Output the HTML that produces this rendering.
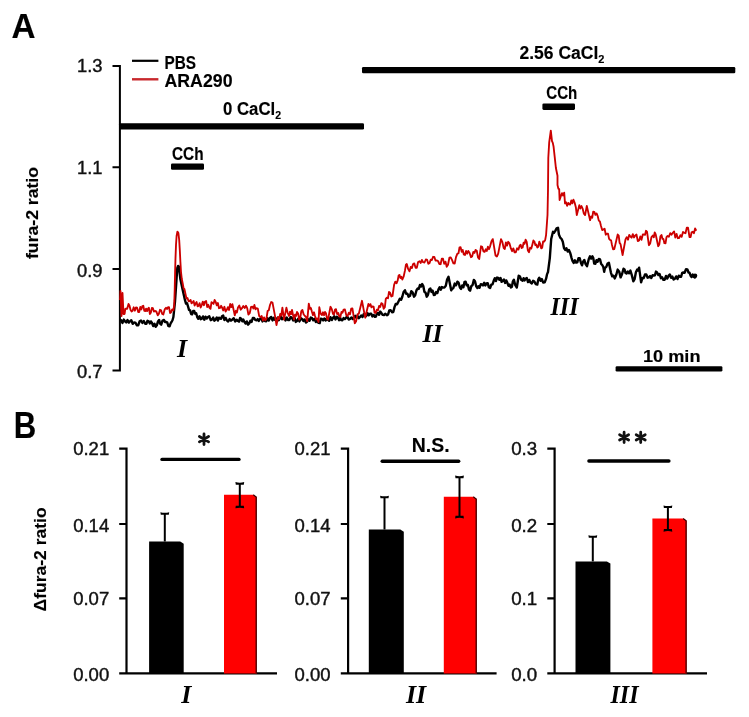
<!DOCTYPE html>
<html><head><meta charset="utf-8"><style>
html,body{margin:0;padding:0;background:#fff;}
body{width:749px;height:717px;overflow:hidden;font-family:"Liberation Sans", sans-serif;}
svg{display:block;filter:blur(0.35px);}
</style></head><body>
<svg width="749" height="717" viewBox="0 0 749 717">
<rect width="749" height="717" fill="#fff"/>
<text x="11.5" y="38.4" font-size="35" fill="#000" font-family='"Liberation Sans", sans-serif' stroke="#000" stroke-width="0.15" font-weight="bold" textLength="24" lengthAdjust="spacingAndGlyphs" >A</text>
<text x="13.8" y="437.9" font-size="36" fill="#000" font-family='"Liberation Sans", sans-serif' stroke="#000" stroke-width="0.15" font-weight="bold" textLength="22.5" lengthAdjust="spacingAndGlyphs" >B</text>
<path d="M112.5 66 H119.9 V370.5 H112.5 M112.5 167.2 H119.9 M112.5 269 H119.9" stroke="#000" stroke-width="2" fill="none"/>
<text x="77" y="72" font-size="17.5" fill="#111" font-family='"Liberation Sans", sans-serif' stroke="#111" stroke-width="0.4" textLength="25.5" lengthAdjust="spacingAndGlyphs" >1.3</text>
<text x="77" y="174" font-size="17.5" fill="#111" font-family='"Liberation Sans", sans-serif' stroke="#111" stroke-width="0.4" textLength="25.5" lengthAdjust="spacingAndGlyphs" >1.1</text>
<text x="77" y="276.8" font-size="17.5" fill="#111" font-family='"Liberation Sans", sans-serif' stroke="#111" stroke-width="0.4" textLength="25.5" lengthAdjust="spacingAndGlyphs" >0.9</text>
<text x="77" y="378.4" font-size="17.5" fill="#111" font-family='"Liberation Sans", sans-serif' stroke="#111" stroke-width="0.4" textLength="25.5" lengthAdjust="spacingAndGlyphs" >0.7</text>
<g transform="translate(38.4,213) rotate(-90)"><text x="0" y="0" font-size="17" fill="#000" font-family='"Liberation Sans", sans-serif' stroke="#000" stroke-width="0.15" font-weight="bold" text-anchor="middle" textLength="92" lengthAdjust="spacingAndGlyphs" >fura-2 ratio</text></g>
<line x1="132" y1="60.8" x2="158.4" y2="60.8" stroke="#000" stroke-width="2.2"/>
<line x1="132" y1="79.3" x2="158.4" y2="79.3" stroke="#c8282c" stroke-width="2.4"/>
<text x="164.5" y="68.5" font-size="17.5" fill="#000" font-family='"Liberation Sans", sans-serif' stroke="#000" stroke-width="0.15" font-weight="bold" textLength="31.5" lengthAdjust="spacingAndGlyphs" >PBS</text>
<text x="164.5" y="86.5" font-size="17.5" fill="#000" font-family='"Liberation Sans", sans-serif' stroke="#000" stroke-width="0.15" font-weight="bold" textLength="68" lengthAdjust="spacingAndGlyphs" >ARA290</text>
<rect x="119" y="123.3" width="245" height="6.3" rx="1.3" fill="#000"/>
<rect x="362" y="67" width="373.3" height="6.2" rx="1.3" fill="#000"/>
<rect x="171" y="163.5" width="33" height="6.2" rx="1.3" fill="#000"/>
<rect x="542.4" y="103.4" width="32.6" height="6.5" rx="1.3" fill="#000"/>
<rect x="615.6" y="366.3" width="106.8" height="5.2" rx="1.3" fill="#000"/>
<text x="223" y="114.8" font-size="17.5" fill="#000" font-family='"Liberation Sans", sans-serif' stroke="#000" stroke-width="0.15" font-weight="bold" textLength="58" lengthAdjust="spacingAndGlyphs" >0 CaCl<tspan font-size="11" dy="4">2</tspan></text>
<text x="519.5" y="58.5" font-size="17.5" fill="#000" font-family='"Liberation Sans", sans-serif' stroke="#000" stroke-width="0.15" font-weight="bold" >2.56 CaCl<tspan font-size="11" dy="4">2</tspan></text>
<text x="172" y="159.8" font-size="17.5" fill="#000" font-family='"Liberation Sans", sans-serif' stroke="#000" stroke-width="0.15" font-weight="bold" textLength="31.5" lengthAdjust="spacingAndGlyphs" >CCh</text>
<text x="546.3" y="99.4" font-size="17.5" fill="#000" font-family='"Liberation Sans", sans-serif' stroke="#000" stroke-width="0.15" font-weight="bold" textLength="31" lengthAdjust="spacingAndGlyphs" >CCh</text>
<text x="643" y="361.9" font-size="16" fill="#000" font-family='"Liberation Sans", sans-serif' stroke="#000" stroke-width="0.15" font-weight="bold" textLength="57.5" lengthAdjust="spacingAndGlyphs" >10 min</text>
<text x="177" y="356.9" font-size="26" fill="#000" font-family='"Liberation Serif", serif' font-weight="bold" font-style="italic" >I</text>
<text x="422.5" y="341.7" font-size="26" fill="#000" font-family='"Liberation Serif", serif' font-weight="bold" font-style="italic" >II</text>
<text x="550.5" y="314.9" font-size="26" fill="#000" font-family='"Liberation Serif", serif' font-weight="bold" font-style="italic" textLength="28" lengthAdjust="spacingAndGlyphs" >III</text>
<polyline points="120.0,321.0 121.2,320.2 122.5,322.9 123.8,319.6 125.0,321.3 126.2,322.4 127.5,320.0 128.8,322.6 130.0,321.3 131.3,320.2 132.7,323.8 134.0,322.5 135.4,322.6 136.8,325.2 138.2,325.4 139.6,321.3 141.0,320.6 142.4,322.9 143.8,321.0 145.2,323.7 146.4,323.7 147.5,320.8 148.7,321.3 149.8,323.4 150.9,321.4 152.0,323.0 153.2,326.1 154.5,323.7 155.7,326.8 156.8,325.3 158.0,321.4 159.1,319.9 160.1,323.7 161.2,324.7 162.6,320.5 164.0,319.9 165.0,322.1 166.0,322.0 167.2,322.4 168.4,326.1 169.6,326.3 170.6,323.4 171.5,322.0 172.4,320.5 173.4,317.0 175.0,301.7 177.3,268.0 178.1,265.9 178.8,266.4 180.3,278.7 182.6,289.4 185.0,300.2 186.0,303.6 187.0,303.2 188.0,306.3 189.0,309.9 190.1,310.4 191.1,314.0 192.1,314.3 193.2,310.9 194.2,311.0 195.2,313.8 196.2,313.3 197.2,317.0 198.3,318.8 199.5,316.3 200.7,319.2 201.8,318.6 203.0,316.4 204.3,319.7 205.5,316.7 206.8,318.5 208.0,317.0 209.3,316.3 210.7,320.2 212.0,319.5 213.2,317.6 214.4,320.7 215.6,319.4 216.8,317.5 217.9,320.5 219.0,317.7 220.2,318.6 221.1,318.8 222.0,316.2 223.2,315.5 224.4,320.0 225.6,317.9 226.8,320.3 228.2,321.5 229.6,319.1 231.0,320.7 232.4,319.5 233.8,318.2 235.2,321.5 236.6,319.7 238.0,321.0 239.1,321.6 240.1,317.9 241.2,318.7 242.3,321.3 243.3,319.6 244.4,321.9 245.6,323.6 246.8,321.4 248.0,324.7 249.2,323.5 250.4,320.7 251.6,321.9 252.8,318.0 254.0,317.9 255.2,319.9 256.5,320.3 257.7,319.1 258.8,321.0 260.0,319.0 261.2,317.6 262.5,321.4 263.8,319.3 265.0,321.0 266.2,321.2 267.5,318.2 268.8,320.6 270.0,318.0 271.2,316.9 272.5,320.4 273.8,317.8 275.0,320.0 276.2,320.5 277.5,317.7 278.8,320.3 280.0,318.0 281.0,316.6 282.0,319.3 283.0,318.0 284.2,317.4 285.5,320.4 286.8,317.6 288.0,320.0 289.3,320.1 290.7,317.0 292.0,318.0 293.2,320.4 294.5,317.7 295.8,321.9 297.0,321.0 298.2,318.8 299.5,321.4 300.8,318.1 302.0,319.0 303.3,320.9 304.6,319.4 305.9,322.6 307.2,321.5 308.4,319.2 309.6,320.7 310.8,317.5 312.0,318.0 313.3,320.3 314.6,318.8 315.9,322.1 317.2,320.5 318.5,322.9 319.7,323.1 320.8,318.8 322.0,319.0 323.2,320.4 324.4,318.5 325.6,320.5 326.8,318.7 328.0,319.8 329.2,320.8 330.5,317.2 331.8,320.1 333.0,318.0 334.2,316.3 335.5,319.5 336.8,316.7 338.0,317.7 339.1,320.2 340.1,317.7 341.2,320.0 342.4,320.3 343.6,318.1 344.8,319.1 346.0,317.7 347.3,316.5 348.7,319.6 350.0,319.0 351.3,317.4 352.7,319.1 354.0,316.9 355.2,315.8 356.4,317.8 357.6,316.0 358.8,318.3 360.0,317.0 361.2,315.5 362.5,317.1 363.8,313.9 365.0,315.0 366.2,316.0 367.5,313.2 368.8,315.3 370.0,313.7 371.2,313.7 372.4,316.5 373.7,314.9 374.9,316.9 375.9,316.6 377.0,313.4 378.0,313.0 379.1,314.8 380.2,311.6 381.3,312.9 382.6,314.9 384.0,315.0 385.4,313.7 386.9,315.3 388.1,314.5 389.3,310.4 390.6,310.1 392.0,312.2 393.3,312.0 394.5,307.1 395.7,304.0 397.1,304.2 398.6,301.2 399.8,298.8 401.1,299.8 402.3,296.7 403.6,292.0 405.0,290.3 406.2,293.8 407.4,293.6 408.6,296.7 410.0,295.8 411.3,291.2 412.6,292.3 414.0,296.7 415.2,295.3 416.5,290.2 417.7,288.5 418.8,288.9 419.9,285.0 421.1,286.5 422.2,284.0 423.3,286.0 424.4,291.8 425.6,292.7 426.7,296.7 427.9,295.1 429.2,289.4 430.4,288.5 431.5,291.9 432.6,290.6 433.8,295.0 434.9,294.9 436.1,292.0 437.3,293.1 438.5,289.4 439.6,287.3 440.8,289.7 441.9,287.0 443.0,287.6 444.4,287.5 445.8,285.8 447.1,279.5 448.5,276.7 451.2,290.3 452.0,288.9 453.4,287.9 454.7,283.6 456.0,285.4 457.4,281.7 458.6,282.7 459.9,287.5 461.1,288.9 462.2,285.4 463.4,287.2 464.5,281.9 465.6,281.7 466.7,285.3 467.9,285.0 469.0,289.6 470.1,290.7 471.3,286.1 472.6,285.0 473.8,279.9 475.0,281.3 476.2,286.3 477.4,288.0 478.5,286.2 479.6,287.7 480.8,284.2 481.9,284.4 483.0,285.5 484.2,282.8 485.4,285.5 486.5,283.5 487.7,283.2 488.9,287.3 490.1,288.0 491.3,284.6 492.5,284.3 493.7,280.8 494.8,278.2 495.9,281.1 497.1,277.6 498.2,278.0 499.4,279.7 500.5,277.9 501.6,281.8 502.8,280.8 503.9,279.4 505.1,282.9 506.2,280.4 507.3,282.6 508.5,285.8 509.7,284.6 510.9,287.5 511.9,286.8 512.9,281.3 513.9,279.7 515.3,285.2 516.8,287.5 518.7,275.8 520.0,276.6 521.3,280.0 522.6,280.7 523.6,278.2 524.6,280.4 525.6,278.7 526.8,278.0 528.0,282.1 529.3,279.9 530.5,282.6 531.8,283.4 533.1,280.8 534.4,281.6 535.8,284.2 537.3,284.6 538.3,279.4 539.3,277.7 540.6,280.8 541.9,279.1 543.2,282.6 544.7,282.4 546.1,278.7 547.0,274.4 548.0,272.0 549.8,258.1 551.2,239.0 553.0,231.8 554.1,232.7 555.3,230.9 556.6,228.4 558.0,227.7 558.9,234.5 560.2,237.6 561.6,239.0 562.8,241.8 564.0,248.0 565.2,249.9 566.4,248.2 567.7,251.6 568.9,249.9 570.2,252.9 571.6,258.1 572.5,260.8 573.7,262.9 574.9,260.3 576.1,262.6 577.3,262.3 578.5,258.2 579.7,258.1 580.9,262.7 582.0,265.3 583.1,261.7 584.3,259.9 585.6,264.1 587.0,266.2 588.8,259.0 590.0,256.3 591.2,258.6 592.4,256.3 593.3,258.1 594.2,263.5 595.4,263.7 596.5,260.2 597.6,261.8 598.8,259.0 600.0,259.4 601.2,264.0 602.4,265.3 603.3,267.0 604.2,271.7 605.0,267.7 606.3,266.9 607.6,263.5 608.9,262.8 610.9,272.6 612.2,276.3 613.5,275.7 614.8,278.4 616.2,275.0 617.7,269.6 619.2,271.6 620.6,277.4 622.0,274.3 623.5,268.7 624.5,269.4 625.5,272.9 626.5,273.5 627.8,271.5 629.1,273.2 630.4,270.6 631.8,275.1 633.3,281.3 634.6,279.2 635.9,272.3 637.2,269.6 638.2,270.5 639.1,267.7 641.1,282.3 642.4,277.9 643.7,278.2 645.0,274.5 646.3,274.4 647.6,277.7 648.9,277.4 650.1,276.1 651.3,278.0 652.6,275.2 653.8,275.5 654.9,275.3 656.0,271.6 657.1,272.5 658.4,275.1 659.6,274.0 660.9,278.2 662.1,277.3 663.4,279.9 664.7,279.7 666.0,276.0 667.3,278.6 668.6,275.7 669.9,274.5 671.1,277.8 672.4,276.6 673.6,279.6 674.9,278.8 676.2,276.4 677.5,279.1 678.8,275.7 680.1,276.7 681.1,276.8 682.2,272.8 683.2,272.5 684.6,272.8 686.0,269.3 687.4,269.4 688.5,272.5 689.5,272.7 690.6,275.7 691.6,277.1 692.7,274.5 693.7,276.7 694.8,277.5 695.8,275.7" fill="none" stroke="#000" stroke-width="2.4" stroke-linejoin="round"/>
<polyline points="120.0,300.0 120.5,291.0 121.5,316.0 122.5,293.0 123.5,314.0 124.6,314.0 125.3,308.8 126.0,308.6 127.2,308.8 128.5,304.0 129.5,305.8 130.5,309.8 131.6,311.4 132.6,310.7 133.7,307.3 134.9,310.7 136.0,307.4 137.1,307.6 138.2,312.0 139.2,312.0 140.3,307.0 141.3,309.5 142.4,306.1 143.3,305.8 144.3,310.7 145.2,311.1 146.1,308.6 147.1,311.1 148.0,308.6 148.9,307.8 149.9,314.0 150.8,312.8 151.9,308.0 152.9,308.2 153.9,311.5 155.0,311.0 156.3,311.4 157.7,315.3 158.8,314.0 160.0,309.8 161.1,310.3 162.2,314.0 163.3,314.5 164.7,309.4 166.0,307.8 167.0,309.0 168.0,307.2 169.0,307.2 170.1,313.0 171.1,312.2 172.2,309.4 173.4,310.4 174.2,305.0 174.7,290.0 175.1,272.0 175.5,258.0 176.0,245.0 176.6,236.0 177.4,231.6 178.4,233.0 179.2,240.0 179.8,250.0 180.4,262.0 181.0,272.0 181.8,279.0 182.8,284.0 183.6,288.4 184.4,289.0 186.5,298.6 187.5,298.0 188.6,301.3 189.6,301.0 190.6,300.0 191.5,303.3 192.5,302.5 193.6,300.9 194.6,305.6 195.7,303.3 196.6,302.1 197.6,306.4 198.5,306.0 199.6,303.2 200.7,307.5 201.8,304.8 202.8,301.6 203.9,305.2 204.9,301.7 206.1,301.0 207.2,307.1 208.3,304.8 209.5,307.9 210.5,308.8 211.5,302.1 212.5,303.0 213.5,303.9 214.6,299.9 215.6,301.7 216.8,305.4 217.9,303.0 219.0,308.2 220.2,307.9 221.1,305.8 222.0,307.4 223.2,310.5 224.4,306.8 225.6,311.5 226.8,309.8 227.9,307.1 229.0,310.0 230.2,304.0 231.3,307.1 232.4,304.2 234.8,315.4 235.9,310.8 236.9,312.5 238.0,307.4 239.3,305.5 240.7,309.7 242.0,308.2 243.3,306.0 244.7,308.1 246.0,305.8 247.2,308.1 248.4,314.6 249.7,313.2 251.1,306.8 252.4,306.6 253.4,308.5 254.4,304.9 255.5,309.3 256.5,308.2 257.8,308.6 259.2,316.2 260.5,317.0 261.7,316.0 262.9,320.5 264.1,317.4 265.3,320.3 266.5,318.4 267.6,311.1 268.8,310.2 270.0,305.0 271.2,302.0 272.5,302.6 274.9,315.4 276.5,325.0 278.1,317.0 279.2,319.0 280.2,313.9 281.3,315.4 282.4,307.6 284.0,319.6 286.4,307.6 287.7,313.0 289.0,316.0 290.0,311.7 291.0,314.2 292.0,310.0 294.0,319.6 295.0,314.6 296.0,315.9 297.0,312.0 298.1,313.6 299.2,319.6 300.3,317.5 301.3,311.1 302.4,310.0 303.7,314.5 305.0,316.0 306.1,317.2 307.2,321.2 308.8,303.6 309.9,308.8 310.9,308.0 312.0,312.0 313.0,315.2 314.0,312.3 315.0,316.0 316.2,319.4 317.3,318.6 318.5,322.0 319.3,307.2 320.6,313.5 322.0,315.0 323.0,312.3 324.0,315.2 325.0,312.0 326.0,313.4 327.0,318.7 328.0,319.6 330.5,306.8 331.8,309.1 333.0,314.0 334.0,314.5 335.0,309.6 336.0,309.2 337.1,314.1 338.2,312.9 339.3,316.4 340.4,316.9 341.5,311.9 342.5,312.7 343.6,309.6 344.9,309.4 346.3,315.2 347.6,316.0 348.8,312.8 350.0,314.3 351.2,308.7 352.4,308.4 354.8,323.3 356.1,321.2 357.5,314.3 358.8,313.7 362.0,300.8 365.2,317.7 368.4,304.0 369.4,305.9 370.4,304.1 371.5,307.4 372.5,306.4 373.6,306.6 374.6,312.9 375.7,312.9 376.8,309.7 377.9,310.6 379.1,306.0 380.2,306.9 381.3,303.2 382.5,303.8 383.7,308.8 384.8,307.3 385.8,298.9 386.9,297.6 388.0,298.2 389.0,292.0 390.1,292.8 391.3,296.5 392.5,296.0 394.1,284.8 395.3,281.6 396.5,283.3 397.7,280.4 398.6,275.6 399.5,274.9 400.4,278.0 401.4,276.8 402.3,279.5 403.6,276.7 405.0,270.4 405.9,264.8 406.8,264.0 408.1,268.9 409.5,271.3 410.7,266.9 411.9,268.1 413.1,264.0 414.3,263.4 415.6,267.7 416.8,267.7 418.1,262.0 419.5,261.3 420.7,263.0 421.9,259.9 423.1,262.2 424.5,262.5 425.8,259.5 427.0,259.6 428.3,263.8 429.5,263.1 430.7,259.7 431.9,260.0 433.1,256.8 434.3,256.9 435.5,260.5 436.7,260.4 438.0,261.0 439.4,264.0 440.6,264.2 441.8,258.6 443.0,258.6 444.2,263.9 445.5,261.6 446.7,266.8 448.0,264.8 449.4,257.7 450.7,257.4 452.0,259.9 453.4,263.4 454.7,263.5 456.0,257.1 457.4,253.6 458.5,253.4 459.5,247.3 460.6,247.2 461.7,251.9 462.7,249.9 463.8,254.5 464.9,255.0 466.1,251.0 467.2,253.7 468.3,250.9 469.6,253.0 471.0,257.2 472.1,256.5 473.3,251.9 474.5,252.9 475.6,249.9 476.8,250.8 478.0,257.4 479.2,259.0 481.0,246.3 482.2,246.9 483.4,251.3 484.6,251.8 485.7,249.3 486.8,251.0 487.9,246.6 489.0,249.2 490.1,246.3 491.5,241.2 492.8,239.1 495.5,255.4 496.9,256.5 498.2,253.6 501.0,239.1 502.4,242.2 503.7,248.1 504.8,249.0 505.9,242.4 507.1,245.6 508.2,241.8 509.5,243.4 510.9,248.4 512.1,251.2 513.3,248.4 514.6,252.4 515.8,252.3 517.1,248.3 518.4,249.6 519.7,245.5 520.7,244.8 521.6,248.0 522.6,247.5 523.6,242.6 524.6,243.8 525.6,239.6 526.7,242.0 527.9,250.5 529.0,252.3 530.1,247.7 531.3,248.6 532.4,244.5 533.4,240.5 534.4,241.6 535.4,245.2 536.3,244.5 537.3,247.5 538.3,246.7 539.3,241.6 540.2,243.8 541.2,248.4 542.2,247.7 543.1,241.5 544.1,241.6 545.1,240.3 546.1,234.8 547.5,215.0 548.0,190.0 548.3,158.0 549.2,142.3 550.8,130.6 552.0,141.2 552.8,142.9 553.6,146.8 554.7,156.8 555.9,168.0 557.5,175.8 557.5,185.0 558.4,188.8 559.2,189.2 559.6,200.0 560.9,195.9 562.0,193.1 563.1,195.5 564.2,192.6 565.0,203.4 566.0,202.3 567.1,205.8 568.2,202.9 569.2,204.3 570.2,204.6 571.3,200.4 572.4,203.3 573.4,199.7 574.6,202.5 575.9,207.6 576.8,215.1 579.3,205.1 580.4,208.5 581.5,206.0 582.6,208.5 583.9,213.7 585.1,215.1 586.8,205.9 590.1,220.2 591.1,216.4 592.2,217.8 593.2,211.7 594.3,211.8 595.4,214.9 596.6,213.4 597.7,216.0 598.8,220.6 599.9,221.5 601.0,226.0 602.2,230.1 603.5,229.4 604.6,228.8 605.8,234.7 606.9,233.6 608.0,233.6 609.1,238.9 610.2,240.0 611.1,240.4 612.0,245.0 613.1,249.3 614.3,249.1 617.7,234.5 618.7,235.6 619.6,242.9 620.6,244.3 622.6,255.0 625.5,239.4 626.7,237.1 628.0,239.7 629.2,234.9 630.4,236.5 631.6,237.7 632.8,234.1 634.0,237.5 635.2,235.5 636.5,234.6 637.8,241.1 639.1,240.4 640.3,236.4 641.5,239.8 642.8,234.5 644.0,234.5 645.0,234.9 646.0,230.8 647.0,231.6 648.9,245.2 650.2,243.4 651.5,237.0 652.8,235.5 653.8,237.3 654.7,232.4 655.7,234.5 658.2,246.2 659.3,244.4 660.4,236.4 661.5,235.0 662.5,238.9 663.4,238.9 664.4,243.2 665.5,243.4 666.5,237.1 667.6,235.9 668.9,236.8 670.2,233.2 671.5,234.7 672.8,232.8 674.1,231.4 675.3,237.5 676.6,233.9 677.8,238.2 679.1,238.0 680.4,235.2 681.7,236.8 683.0,232.0 684.3,232.8 685.5,233.2 686.8,227.6 688.0,227.6 689.5,237.0 690.6,237.1 691.6,232.3 692.7,231.7 693.9,233.3 695.1,228.5 696.3,230.7" fill="none" stroke="#cc0000" stroke-width="1.85" stroke-linejoin="round"/>
<circle cx="695" cy="275.8" r="2.3" fill="#000"/>
<path d="M119.2 448.7 H126.5 V673.4 M119.2 524 H126.5 M119.2 598.4 H126.5 M119.2 673.4 H277" stroke="#000" stroke-width="2.2" fill="none"/>
<text x="73.2" y="455" font-size="17.5" fill="#111" font-family='"Liberation Sans", sans-serif' stroke="#111" stroke-width="0.4" textLength="36" lengthAdjust="spacingAndGlyphs" >0.21</text>
<text x="73.2" y="531.8" font-size="17.5" fill="#111" font-family='"Liberation Sans", sans-serif' stroke="#111" stroke-width="0.4" textLength="36" lengthAdjust="spacingAndGlyphs" >0.14</text>
<text x="73.2" y="604.6" font-size="17.5" fill="#111" font-family='"Liberation Sans", sans-serif' stroke="#111" stroke-width="0.4" textLength="36" lengthAdjust="spacingAndGlyphs" >0.07</text>
<text x="73.2" y="681" font-size="17.5" fill="#111" font-family='"Liberation Sans", sans-serif' stroke="#111" stroke-width="0.4" textLength="36" lengthAdjust="spacingAndGlyphs" >0.00</text>
<path d="M340.8 448.7 H348.1 V673.4 M340.8 524 H348.1 M340.8 598.4 H348.1 M340.8 673.4 H496.6" stroke="#000" stroke-width="2.2" fill="none"/>
<text x="294.5" y="455" font-size="17.5" fill="#111" font-family='"Liberation Sans", sans-serif' stroke="#111" stroke-width="0.4" textLength="36" lengthAdjust="spacingAndGlyphs" >0.21</text>
<text x="294.5" y="531.8" font-size="17.5" fill="#111" font-family='"Liberation Sans", sans-serif' stroke="#111" stroke-width="0.4" textLength="36" lengthAdjust="spacingAndGlyphs" >0.14</text>
<text x="294.5" y="604.6" font-size="17.5" fill="#111" font-family='"Liberation Sans", sans-serif' stroke="#111" stroke-width="0.4" textLength="36" lengthAdjust="spacingAndGlyphs" >0.07</text>
<text x="294.5" y="681" font-size="17.5" fill="#111" font-family='"Liberation Sans", sans-serif' stroke="#111" stroke-width="0.4" textLength="36" lengthAdjust="spacingAndGlyphs" >0.00</text>
<path d="M547.3000000000001 448.7 H554.6 V673.4 M547.3000000000001 524 H554.6 M547.3000000000001 598.4 H554.6 M547.3000000000001 673.4 H707" stroke="#000" stroke-width="2.2" fill="none"/>
<text x="511.2" y="455" font-size="17.5" fill="#111" font-family='"Liberation Sans", sans-serif' stroke="#111" stroke-width="0.4" textLength="26" lengthAdjust="spacingAndGlyphs" >0.3</text>
<text x="511.2" y="531.8" font-size="17.5" fill="#111" font-family='"Liberation Sans", sans-serif' stroke="#111" stroke-width="0.4" textLength="26" lengthAdjust="spacingAndGlyphs" >0.2</text>
<text x="511.2" y="604.6" font-size="17.5" fill="#111" font-family='"Liberation Sans", sans-serif' stroke="#111" stroke-width="0.4" textLength="26" lengthAdjust="spacingAndGlyphs" >0.1</text>
<text x="511.2" y="681" font-size="17.5" fill="#111" font-family='"Liberation Sans", sans-serif' stroke="#111" stroke-width="0.4" textLength="26" lengthAdjust="spacingAndGlyphs" >0.0</text>
<polygon points="149.1,541.5 180.2,541.5 183.7,543.7 183.7,673.4 149.1,673.4" fill="#000"/>
<polygon points="224,494.8 253.3,494.8 256.8,497.0 256.8,673.4 224,673.4" fill="#ff0000"/>
<path d="M253.3 494.8 L256.2 497.0 V673" stroke="#300" stroke-width="1.2" fill="none"/>
<polygon points="368.8,529.5 400.3,529.5 403.8,531.7 403.8,673.4 368.8,673.4" fill="#000"/>
<polygon points="443.8,496.8 473.3,496.8 476.8,499.0 476.8,673.4 443.8,673.4" fill="#ff0000"/>
<path d="M473.3 496.8 L476.2 499.0 V673" stroke="#300" stroke-width="1.2" fill="none"/>
<polygon points="575.5,561.4 606.9,561.4 610.4,563.6 610.4,673.4 575.5,673.4" fill="#000"/>
<polygon points="652.4,518.5 683.2,518.5 686.7,520.7 686.7,673.4 652.4,673.4" fill="#ff0000"/>
<path d="M683.2 518.5 L686.1 520.7 V673" stroke="#300" stroke-width="1.2" fill="none"/>
<path d="M164.8 513.7 V541.5" stroke="#000" stroke-width="2" fill="none"/>
<path d="M160.4 512.2 Q164.8 513.4 169.2 512.2 L168.8 514.8 L160.8 514.8 Z" fill="#000"/>
<path d="M239.8 483.6 V506.8" stroke="#000" stroke-width="2" fill="none"/>
<path d="M235.4 482.1 Q239.8 483.3 244.2 482.1 L243.8 484.7 L235.8 484.7 Z" fill="#000"/>
<path d="M235.4 508.3 Q239.8 507.1 244.2 508.3 L243.8 505.7 L235.8 505.7 Z" fill="#000"/>
<path d="M384.5 497.2 V529.5" stroke="#000" stroke-width="2" fill="none"/>
<path d="M380.1 495.7 Q384.5 496.9 388.9 495.7 L388.5 498.3 L380.5 498.3 Z" fill="#000"/>
<path d="M459.5 477.1 V516.9" stroke="#000" stroke-width="2" fill="none"/>
<path d="M455.1 475.6 Q459.5 476.8 463.9 475.6 L463.5 478.2 L455.5 478.2 Z" fill="#000"/>
<path d="M455.1 518.4 Q459.5 517.2 463.9 518.4 L463.5 515.8 L455.5 515.8 Z" fill="#000"/>
<path d="M592.8 536.7 V561.4" stroke="#000" stroke-width="2" fill="none"/>
<path d="M588.4 535.2 Q592.8 536.4 597.2 535.2 L596.8 537.8 L588.8 537.8 Z" fill="#000"/>
<path d="M667.9 507 V530.2" stroke="#000" stroke-width="2" fill="none"/>
<path d="M663.5 505.5 Q667.9 506.7 672.3 505.5 L671.9 508.1 L663.9 508.1 Z" fill="#000"/>
<path d="M663.5 531.7 Q667.9 530.5 672.3 531.7 L671.9 529.1 L663.9 529.1 Z" fill="#000"/>
<line x1="162.0" y1="459.4" x2="239.0" y2="459.4" stroke="#000" stroke-width="3.4" stroke-linecap="round"/>
<line x1="382.20000000000005" y1="461.3" x2="458.7" y2="461.3" stroke="#000" stroke-width="3.4" stroke-linecap="round"/>
<line x1="588.9" y1="461" x2="668.9" y2="461" stroke="#000" stroke-width="3.4" stroke-linecap="round"/>
<path d="M204.00 433.90 L204.00 444.50 M208.59 436.55 L199.41 441.85 M208.59 441.85 L199.41 436.55 " stroke="#111" stroke-width="2.8" stroke-linecap="round" fill="none"/>
<path d="M624.10 432.20 L624.10 442.60 M628.60 434.80 L619.60 440.00 M628.60 440.00 L619.60 434.80 " stroke="#111" stroke-width="2.8" stroke-linecap="round" fill="none"/>
<path d="M640.70 432.20 L640.70 442.60 M645.20 434.80 L636.20 440.00 M645.20 440.00 L636.20 434.80 " stroke="#111" stroke-width="2.8" stroke-linecap="round" fill="none"/>
<text x="411.8" y="451.5" font-size="20" fill="#000" font-family='"Liberation Sans", sans-serif' stroke="#000" stroke-width="0.15" font-weight="bold" textLength="37.8" lengthAdjust="spacingAndGlyphs" >N.S.</text>
<text x="181.3" y="703" font-size="26" fill="#000" font-family='"Liberation Serif", serif' font-weight="bold" font-style="italic" >I</text>
<text x="406" y="703.3" font-size="26" fill="#000" font-family='"Liberation Serif", serif' font-weight="bold" font-style="italic" >II</text>
<text x="610.5" y="703.3" font-size="26" fill="#000" font-family='"Liberation Serif", serif' font-weight="bold" font-style="italic" textLength="28" lengthAdjust="spacingAndGlyphs" >III</text>
<g transform="translate(46.4,559.4) rotate(-90)"><text x="0" y="0" font-size="17" fill="#000" font-family='"Liberation Sans", sans-serif' stroke="#000" stroke-width="0.15" font-weight="bold" text-anchor="middle" textLength="104" lengthAdjust="spacingAndGlyphs" >&#916;fura-2 ratio</text></g>
</svg>
</body></html>
